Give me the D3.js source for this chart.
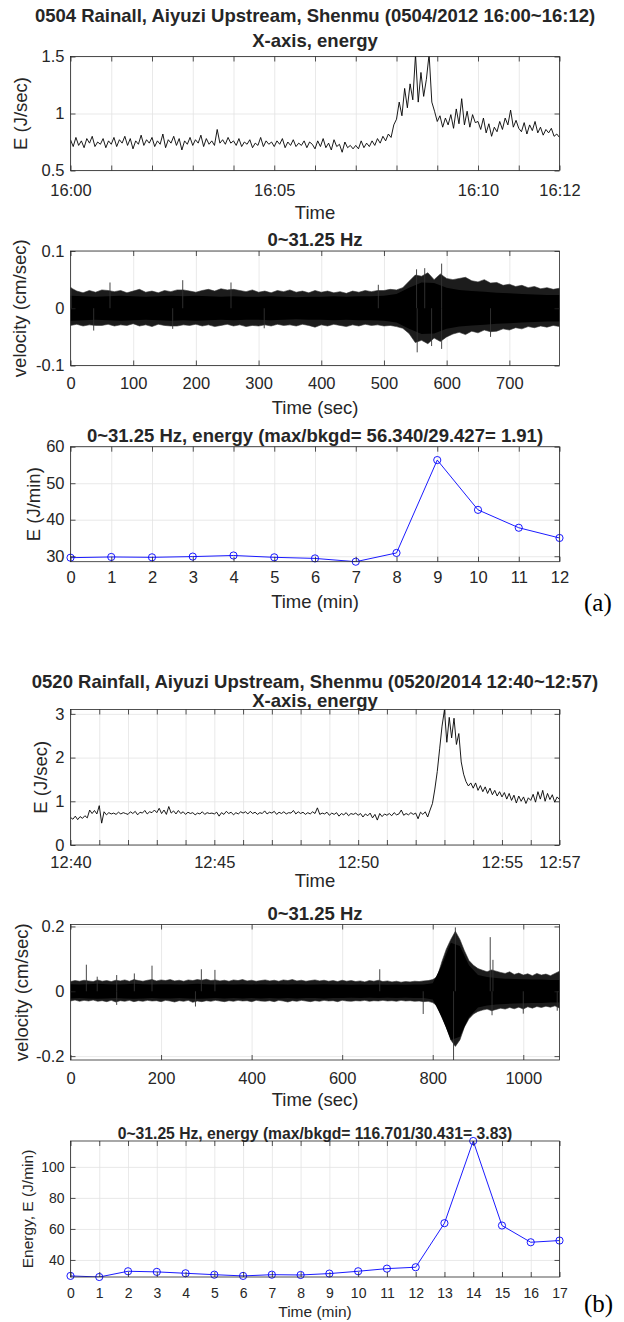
<!DOCTYPE html>
<html><head><meta charset="utf-8">
<script src="https://cdn.jsdelivr.net/npm/d3@7/dist/d3.min.js"></script>
<style>
body{margin:0;background:#fff}
text{font-family:"Liberation Sans",Arial,Helvetica,sans-serif;fill:#262626}
</style>
</head><body>
<svg id="chart" width="624" height="1322"></svg>
<script>
// ---------------- DATA ----------------
// (a) 0504/2012 16:00~16:12
const titleA = "0504 Rainall, Aiyuzi Upstream, Shenmu (0504/2012 16:00~16:12)";
const energyAStep = 4; // seconds
const energyA = [
0.77,0.71,0.79,0.72,0.76,0.70,0.78,0.74,0.80,0.71,0.75,0.73,0.78,0.70,0.76,
0.73,0.79,0.71,0.77,0.74,0.80,0.72,0.78,0.69,0.76,0.73,0.81,0.72,0.77,0.74,
0.79,0.71,0.76,0.73,0.82,0.70,0.77,0.74,0.80,0.72,0.78,0.68,0.76,0.73,0.79,
0.72,0.77,0.74,0.81,0.71,0.78,0.73,0.76,0.72,0.86,0.74,0.77,0.73,0.79,0.74,
0.76,0.72,0.78,0.71,0.75,0.73,0.77,0.70,0.74,0.72,0.79,0.71,0.76,0.73,0.75,
0.71,0.76,0.73,0.78,0.70,0.75,0.72,0.77,0.71,0.74,0.72,0.76,0.70,0.75,0.73,
0.69,0.76,0.71,0.78,0.70,0.74,0.68,0.77,0.71,0.73,0.66,0.75,0.70,0.72,0.69,
0.72,0.69,0.76,0.70,0.74,0.71,0.76,0.72,0.78,0.74,0.80,0.76,0.82,0.79,0.90,
0.95,1.10,0.98,1.22,1.05,1.26,1.12,1.52,1.10,1.36,1.15,1.30,1.52,1.10,1.02,
0.93,0.98,0.88,0.96,0.90,0.99,0.87,1.04,0.91,1.13,0.90,1.02,0.88,0.99,0.92,
0.93,0.86,0.96,0.83,0.91,0.80,0.88,0.84,0.93,0.86,0.96,0.90,1.03,0.88,0.94,
0.87,0.84,0.92,0.82,0.90,0.85,0.93,0.83,0.88,0.81,0.86,0.83,0.87,0.80,0.82,
0.79];
const clockTicksA = [0,5,10,12];
const clockLabelsA = ["16:00","16:05","16:10","16:12"];

const velAStep = 10, velACoreStep = 20;
const velAHi = [
0.036,0.030,0.027,0.031,0.028,0.032,0.031,0.029,0.031,0.027,
0.030,0.033,0.028,0.030,0.027,0.031,0.029,0.032,0.032,0.030,
0.028,0.031,0.033,0.030,0.034,0.032,0.033,0.031,0.029,0.032,
0.028,0.030,0.027,0.031,0.029,0.032,0.028,0.030,0.027,0.031,
0.028,0.030,0.027,0.029,0.026,0.030,0.028,0.031,0.029,0.031,
0.031,0.033,0.032,0.036,0.047,0.058,0.056,0.062,0.050,0.060,
0.052,0.050,0.052,0.054,0.048,0.046,0.050,0.044,0.045,0.040,
0.042,0.038,0.040,0.036,0.038,0.034,0.036,0.033,0.035];
const velALo = [
-0.030,-0.028,-0.031,-0.029,-0.030,-0.030,-0.028,-0.031,-0.029,-0.030,
-0.027,-0.031,-0.029,-0.032,-0.028,-0.030,-0.031,-0.031,-0.029,-0.030,
-0.028,-0.031,-0.029,-0.032,-0.030,-0.028,-0.031,-0.029,-0.032,-0.030,
-0.031,-0.029,-0.031,-0.028,-0.030,-0.029,-0.031,-0.028,-0.030,-0.033,
-0.029,-0.031,-0.028,-0.030,-0.032,-0.029,-0.031,-0.028,-0.030,-0.029,
-0.031,-0.030,-0.032,-0.035,-0.044,-0.060,-0.056,-0.062,-0.052,-0.058,
-0.050,-0.045,-0.042,-0.046,-0.040,-0.043,-0.038,-0.041,-0.040,-0.036,
-0.038,-0.034,-0.036,-0.032,-0.034,-0.031,-0.033,-0.030,-0.032];
const velACore = [
0.022,0.021,0.020,0.021,0.022,0.021,0.020,0.021,0.022,0.021,
0.022,0.021,0.020,0.021,0.020,0.020,0.021,0.020,0.019,0.020,
0.020,0.021,0.020,0.021,0.021,0.022,
0.025,0.036,0.045,0.044,0.036,0.032,0.030,0.029,0.027,0.026,0.025,0.024,0.023,0.023];
const velASpikes = [[1,0.036],[37,-0.039],[63,0.045],[163,-0.036],[179,0.049],[256,0.045],[309,-0.035],
[491,0.041],[552,0.068],[553,-0.077],[565,0.070],[576,-0.066],[592,0.078],[592,-0.071],[670,-0.050]];

const minutesA = [0,1,2,3,4,5,6,7,8,9,10,11,12];
const energyMinA = [29.6,29.8,29.7,29.9,30.2,29.7,29.4,28.5,30.9,56.34,42.7,37.8,35.0];
const minTitleA = "0~31.25 Hz, energy (max/bkgd= 56.340/29.427= 1.91)";

// (b) 0520/2014 12:40~12:57
const titleB = "0520 Rainfall, Aiyuzi Upstream, Shenmu (0520/2014 12:40~12:57)";
const energyBStep = 5;
const energyB = [
0.63,0.59,0.66,0.58,0.65,0.61,0.67,0.62,0.80,0.72,0.79,0.71,
0.90,0.50,0.76,0.69,0.74,0.71,0.73,0.70,0.75,0.71,0.74,0.72,
0.70,0.76,0.72,0.77,0.69,0.75,0.73,0.79,0.71,0.76,0.74,0.80,
0.74,0.84,0.72,0.80,0.70,0.88,0.73,0.78,0.71,0.79,0.72,0.76,
0.70,0.75,0.72,0.74,0.69,0.73,0.71,0.76,0.70,0.74,0.72,0.73,
0.71,0.75,0.66,0.74,0.70,0.77,0.72,0.75,0.69,0.74,0.71,0.76,
0.73,0.76,0.71,0.77,0.72,0.75,0.70,0.74,0.72,0.78,0.71,0.75,
0.73,0.77,0.70,0.75,0.72,0.76,0.71,0.74,0.73,0.79,0.71,0.76,
0.72,0.75,0.70,0.74,0.71,0.76,0.72,0.85,0.70,0.73,0.71,0.75,
0.68,0.73,0.70,0.74,0.66,0.72,0.69,0.74,0.67,0.72,0.70,0.73,
0.68,0.72,0.64,0.71,0.67,0.73,0.62,0.70,0.57,0.72,0.65,0.71,
0.68,0.72,0.67,0.74,0.69,0.71,0.80,0.68,0.72,0.69,0.74,0.70,
0.73,0.60,0.75,0.70,0.76,0.64,0.80,0.95,1.28,1.68,2.20,2.72,
3.09,2.35,2.92,2.45,2.90,2.30,2.55,1.90,1.62,1.45,1.35,1.42,
1.30,1.42,1.25,1.36,1.22,1.33,1.18,1.30,1.15,1.25,1.12,1.22,
1.10,1.20,1.05,1.18,1.02,1.14,0.96,1.12,1.00,1.10,0.95,1.08,
1.02,1.16,0.98,1.22,1.05,1.25,1.00,1.18,1.04,1.15,0.98,1.10,
1.04];
const clockTicksB = [0,5,10,15,17];
const clockLabelsB = ["12:40","12:45","12:50","12:55","12:57"];

const velBStep = 10, velBCoreStep = 20;
const velBHi = [
0.030,0.033,0.031,0.034,0.032,0.030,0.035,0.031,0.033,0.030,
0.034,0.032,0.035,0.031,0.036,0.033,0.031,0.034,0.036,0.032,
0.035,0.033,0.036,0.032,0.034,0.031,0.035,0.033,0.036,0.034,
0.037,0.033,0.035,0.032,0.034,0.031,0.035,0.033,0.036,0.032,
0.034,0.031,0.033,0.035,0.032,0.034,0.031,0.035,0.033,0.036,
0.032,0.034,0.031,0.033,0.035,0.032,0.034,0.031,0.033,0.030,
0.034,0.031,0.033,0.030,0.032,0.029,0.033,0.031,0.034,0.030,
0.032,0.029,0.031,0.028,0.030,0.029,0.031,0.030,0.032,0.033,
0.036,0.045,0.090,0.130,0.160,0.185,0.160,0.125,0.095,0.080,
0.070,0.065,0.060,0.066,0.062,0.058,0.055,0.060,0.052,0.056,
0.050,0.054,0.048,0.055,0.050,0.053,0.048,0.055,0.062];
const velBLo = [
-0.030,-0.027,-0.031,-0.028,-0.030,-0.027,-0.031,-0.029,-0.032,-0.028,
-0.033,-0.029,-0.031,-0.028,-0.032,-0.029,-0.031,-0.028,-0.030,-0.029,
-0.032,-0.028,-0.030,-0.033,-0.029,-0.031,-0.028,-0.034,-0.030,-0.032,
-0.029,-0.031,-0.028,-0.030,-0.032,-0.029,-0.031,-0.028,-0.030,-0.029,
-0.032,-0.028,-0.030,-0.031,-0.029,-0.032,-0.028,-0.030,-0.033,-0.029,
-0.031,-0.028,-0.030,-0.032,-0.029,-0.031,-0.028,-0.030,-0.029,-0.032,
-0.028,-0.030,-0.031,-0.029,-0.030,-0.028,-0.031,-0.029,-0.030,-0.028,
-0.030,-0.029,-0.031,-0.028,-0.030,-0.029,-0.031,-0.030,-0.032,-0.031,
-0.035,-0.045,-0.080,-0.110,-0.150,-0.170,-0.150,-0.110,-0.085,-0.070,
-0.062,-0.058,-0.055,-0.060,-0.056,-0.052,-0.055,-0.050,-0.054,-0.049,
-0.055,-0.048,-0.052,-0.047,-0.050,-0.046,-0.049,-0.045,-0.052];
const velBCore = [
0.022,0.021,0.022,0.023,0.022,0.021,0.022,0.023,0.022,0.021,
0.022,0.022,0.021,0.022,0.023,0.022,0.021,0.022,0.021,0.022,
0.021,0.022,0.021,0.022,0.021,0.022,0.021,0.021,0.022,0.021,
0.021,0.020,0.021,0.020,0.021,0.020,0.021,0.020,0.021,0.021,0.025,
0.080,0.150,0.140,0.080,0.050,0.044,0.041,0.039,0.038,0.037,0.036,0.036,0.035,0.035];
const velBSpikes = [[35,0.082],[59,0.045],[102,0.050],[141,0.055],[180,0.079],[289,0.068],[319,0.066],
[683,0.068],[850,0.197],[927,0.167],[933,0.097],[102,-0.042],[276,-0.047],[779,-0.070],[846,-0.215],
[931,-0.074],[1000,-0.069],[1075,-0.060]];

const minutesB = [0,1,2,3,4,5,6,7,8,9,10,11,12,13,14,15,16,17];
const energyMinB = [29.7,29.0,32.7,32.3,31.4,30.5,29.7,30.5,30.3,31.2,32.7,34.4,35.3,63.7,116.701,62.2,51.4,52.5];
const minTitleB = "0~31.25 Hz, energy (max/bkgd= 116.701/30.431= 3.83)";

// ---------------- DRAW ----------------
const svg = d3.select("#chart");
const X0 = 70.5, X1 = 559.5, XC = (X0 + X1) / 2;
const AX = "#262626", GRID = "#e3e3e3";
let clipN = 0;
const fmtNum = d => String(d);

function panel(o){
  const g = svg.append("g");
  const x = d3.scaleLinear().domain(o.xDomain).range([X0, X1]);
  const y = d3.scaleLinear().domain(o.yDomain).range([o.bottom, o.top]);
  const h = o.bottom - o.top, w = X1 - X0;
  g.append("g").attr("transform", `translate(0,${o.bottom})`)
    .call(d3.axisBottom(x).tickValues(o.xTicks).tickSize(-h).tickFormat(""))
    .call(s => { s.select(".domain").remove(); s.selectAll("line").attr("stroke", GRID).attr("stroke-width", 0.8); });
  g.append("g").attr("transform", `translate(${X0},0)`)
    .call(d3.axisLeft(y).tickValues(o.yTicks).tickSize(-w).tickFormat(""))
    .call(s => { s.select(".domain").remove(); s.selectAll("line").attr("stroke", GRID).attr("stroke-width", 0.8); });
  const id = "clip" + (clipN++);
  svg.append("clipPath").attr("id", id).append("rect")
    .attr("x", X0).attr("y", o.top).attr("width", w).attr("height", h);
  const plot = g.append("g").attr("clip-path", `url(#${id})`);
  return {g, x, y, plot, o};
}

function finish(p){
  const {g, x, y, o} = p;
  const h = o.bottom - o.top, w = X1 - X0;
  const tf = o.tickFont, lf = o.labelFont;
  const style = (s, fs) => {
    s.select(".domain").remove();
    s.selectAll("line").attr("stroke", AX).attr("stroke-width", 0.8);
    s.selectAll("text").attr("fill", AX).style("font-size", fs + "px");
  };
  g.append("g").attr("transform", `translate(0,${o.bottom})`)
    .call(d3.axisBottom(x).tickValues(o.xTicks).tickSize(-5).tickPadding(o.xPad).tickFormat(o.xFmt))
    .call(s => style(s, tf));
  g.append("g").attr("transform", `translate(0,${o.top})`)
    .call(d3.axisTop(x).tickValues(o.xTicks).tickSize(-5).tickFormat(""))
    .call(s => style(s, tf));
  g.append("g").attr("transform", `translate(${X0},0)`)
    .call(d3.axisLeft(y).tickValues(o.yTicks).tickSize(-5).tickPadding(6).tickFormat(o.yFmt))
    .call(s => style(s, tf));
  g.append("g").attr("transform", `translate(${X1},0)`)
    .call(d3.axisRight(y).tickValues(o.yTicks).tickSize(-5).tickFormat(""))
    .call(s => style(s, tf));
  g.append("rect").attr("x", X0).attr("y", o.top).attr("width", w).attr("height", h)
    .attr("fill", "none").attr("stroke", AX).attr("stroke-width", 0.8);
  g.append("text").attr("x", XC).attr("y", o.xLabelY).attr("text-anchor", "middle")
    .style("font-size", lf + "px").text(o.xLabel);
  g.append("text").attr("transform", `translate(${o.yLabelX},${(o.top + o.bottom) / 2}) rotate(-90)`)
    .attr("text-anchor", "middle").style("font-size", lf + "px").text(o.yLabel);
  g.append("text").attr("x", XC).attr("y", o.titleY).attr("text-anchor", "middle")
    .style("font-size", o.titleFont + "px").style("font-weight", "bold").text(o.title);
}

function clockFmt(ticks, labels){
  return d => { const i = ticks.indexOf(d / 60); return i >= 0 ? labels[i] : ""; };
}
const velFmt = d => d === 0 ? "0" : (d < 0 ? "-" : "") + Math.abs(d);

function energyLine(p, data, step){
  p.plot.append("path").datum(data)
    .attr("d", d3.line().x((d, i) => p.x(i * step)).y(d => p.y(d)))
    .attr("fill", "none").attr("stroke", "#000").attr("stroke-width", 0.9).attr("stroke-linejoin", "round");
}
function velocity(p, hi, lo, step, core, coreStep, spikes){
  p.plot.append("path").datum(hi)
    .attr("d", d3.area().x((d, i) => p.x(i * step)).y0((d, i) => p.y(lo[i])).y1(d => p.y(d)))
    .attr("fill", "#1c1c1c").attr("stroke", "#333").attr("stroke-width", 0.6);
  p.plot.append("path").datum(core)
    .attr("d", d3.area().x((d, i) => p.x(i * coreStep)).y0(d => p.y(-d)).y1(d => p.y(d)))
    .attr("fill", "#000");
  p.plot.selectAll(".spk").data(spikes).join("line")
    .attr("x1", d => p.x(d[0])).attr("x2", d => p.x(d[0]))
    .attr("y1", p.y(0)).attr("y2", d => p.y(d[1]))
    .attr("stroke", "#333").attr("stroke-width", 0.9);
}
function minuteLine(p, xs, ys){
  p.plot.append("path").datum(ys)
    .attr("d", d3.line().x((d, i) => p.x(xs[i])).y(d => p.y(d)))
    .attr("fill", "none").attr("stroke", "#0000ff").attr("stroke-width", 0.9);
  p.g.append("g").selectAll("circle").data(ys).join("circle")
    .attr("cx", (d, i) => p.x(xs[i])).attr("cy", d => p.y(d)).attr("r", 3.6)
    .attr("fill", "none").attr("stroke", "#0000ff").attr("stroke-width", 0.9);
}

const BIG = {tickFont: 16.5, labelFont: 18.5, titleFont: 18.5};

// ---- (a) ----
svg.append("text").attr("x", XC).attr("y", 21.5).attr("text-anchor", "middle")
  .style("font-size", "18.5px").style("font-weight", "bold").text(titleA);

const p1 = panel({top: 56.5, bottom: 170.5, xDomain: [0, 720], yDomain: [0.5, 1.5],
  xTicks: d3.range(0, 13).map(m => m * 60), yTicks: [0.5, 1, 1.5]});
energyLine(p1, energyA, energyAStep);
finish(Object.assign(p1, {o: Object.assign(p1.o, BIG, {xPad: 13.5, xFmt: clockFmt(clockTicksA, clockLabelsA),
  yFmt: fmtNum, xLabel: "Time", xLabelY: 219, yLabel: "E (J/sec)", yLabelX: 27, title: "X-axis, energy", titleY: 46.5})}));

const p2 = panel({top: 251, bottom: 365.5, xDomain: [0, 780], yDomain: [-0.1, 0.1],
  xTicks: d3.range(0, 701, 100), yTicks: [-0.1, 0, 0.1]});
velocity(p2, velAHi, velALo, velAStep, velACore, velACoreStep, velASpikes);
finish(Object.assign(p2, {o: Object.assign(p2.o, BIG, {xPad: 11.7, xFmt: fmtNum, yFmt: velFmt,
  xLabel: "Time (sec)", xLabelY: 413.5, yLabel: "velocity (cm/sec)", yLabelX: 26, title: "0~31.25 Hz", titleY: 245.5})}));

const p3 = panel({top: 446.7, bottom: 561.7, xDomain: [0, 12], yDomain: [d3.min(energyMinA), 60],
  xTicks: minutesA, yTicks: [30, 40, 50, 60]});
minuteLine(p3, minutesA, energyMinA);
finish(Object.assign(p3, {o: Object.assign(p3.o, BIG, {xPad: 9.5, xFmt: fmtNum, yFmt: fmtNum,
  xLabel: "Time (min)", xLabelY: 608, yLabel: "E (J/min)", yLabelX: 40, title: minTitleA, titleY: 441.5})}));

svg.append("text").attr("x", 584).attr("y", 611).style("font-family", '"Liberation Serif","Times New Roman",serif')
  .style("font-size", "25px").style("fill", "#000").text("(a)");

// ---- (b) ----
svg.append("text").attr("x", XC).attr("y", 688).attr("text-anchor", "middle")
  .style("font-size", "18.5px").style("font-weight", "bold").text(titleB);

const p4 = panel({top: 709.5, bottom: 845, xDomain: [0, 1020], yDomain: [0, 3.1],
  xTicks: d3.range(0, 18).map(m => m * 60), yTicks: [0, 1, 2, 3]});
energyLine(p4, energyB, energyBStep);
finish(Object.assign(p4, {o: Object.assign(p4.o, BIG, {xPad: 11, xFmt: clockFmt(clockTicksB, clockLabelsB),
  yFmt: fmtNum, xLabel: "Time", xLabelY: 887, yLabel: "E (J/sec)", yLabelX: 47, title: "X-axis, energy", titleY: 706.5})}));

const p5 = panel({top: 924.5, bottom: 1060, xDomain: [0, 1080], yDomain: [-0.212, 0.206],
  xTicks: d3.range(0, 1001, 200), yTicks: [-0.2, 0, 0.2]});
velocity(p5, velBHi, velBLo, velBStep, velBCore, velBCoreStep, velBSpikes);
finish(Object.assign(p5, {o: Object.assign(p5.o, BIG, {xPad: 12, xFmt: fmtNum, yFmt: velFmt,
  xLabel: "Time (sec)", xLabelY: 1105.5, yLabel: "velocity (cm/sec)", yLabelX: 28, title: "0~31.25 Hz", titleY: 919.5})}));

const p6 = panel({top: 1141, bottom: 1277, xDomain: [0, 17], yDomain: d3.extent(energyMinB),
  xTicks: minutesB, yTicks: [40, 60, 80, 100]});
minuteLine(p6, minutesB, energyMinB);
finish(Object.assign(p6, {o: Object.assign(p6.o, {tickFont: 14, labelFont: 15.5, titleFont: 15.7, xPad: 10.8,
  xFmt: fmtNum, yFmt: fmtNum, xLabel: "Time (min)", xLabelY: 1317, yLabel: "Energy, E (J/min)", yLabelX: 33,
  title: minTitleB, titleY: 1138.5})}));

svg.append("text").attr("x", 584).attr("y", 1312).style("font-family", '"Liberation Serif","Times New Roman",serif')
  .style("font-size", "25px").style("fill", "#000").text("(b)");
</script>
</body></html>
